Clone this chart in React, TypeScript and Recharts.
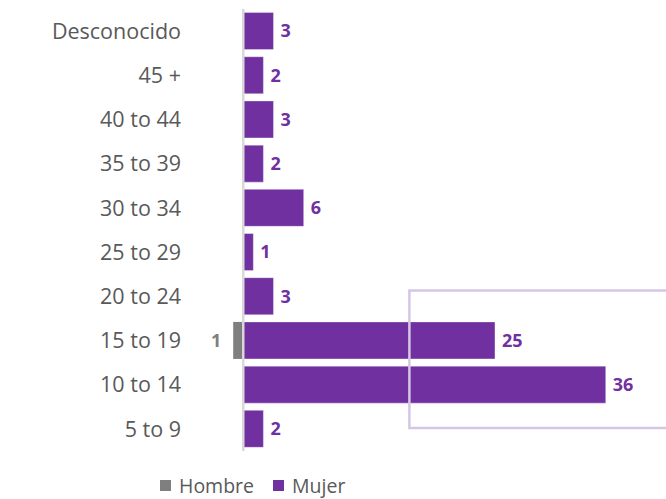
import { BarChart, Bar, XAxis, YAxis, LabelList, Legend, ReferenceLine, ReferenceArea } from "recharts";

const categories = [
  "Desconocido",
  "45 +",
  "40 to 44",
  "35 to 39",
  "30 to 34",
  "25 to 29",
  "20 to 24",
  "15 to 19",
  "10 to 14",
  "5 to 9",
];
const hombre: (number | null)[] = [null, null, null, null, null, null, null, 1, null, null];
const mujer = [3, 2, 3, 2, 6, 1, 3, 25, 36, 2];

const PURPLE = "#7030A0";
const GRAY = "#7F7F7F";
const FONT = "'Open Sans', sans-serif";

// hombre goes to the left of zero
const chartData = categories.map((cat, i) => ({
  cat,
  hombre: hombre[i] == null ? null : -(hombre[i] as number),
  mujer: mujer[i],
}));

const legendItems = [
  { name: "Hombre", color: GRAY },
  { name: "Mujer", color: PURPLE },
];

function renderLegend() {
  return (
    <div style={{ display: "flex", alignItems: "center", gap: 19, fontFamily: FONT, fontSize: 19.5, color: "#595959" }}>
      {legendItems.map((item) => (
        <div key={item.name} style={{ display: "flex", alignItems: "center" }}>
          <span style={{ display: "inline-block", width: 11, height: 11, background: item.color, marginRight: 8 }} />
          <span>{item.name}</span>
        </div>
      ))}
    </div>
  );
}

export default function App() {
  return (
    <div style={{ position: "absolute", left: 0, top: 0, width: 666, height: 499, background: "#fff" }}>
      <BarChart
        width={666}
        height={499}
        data={chartData}
        layout="vertical"
        stackOffset="sign"
        barCategoryGap="8%"
        margin={{ top: 9, right: 20, bottom: 21, left: 0 }}
      >
        <XAxis type="number" domain={[-4, 40]} hide allowDataOverflow />
        <YAxis
          type="category"
          dataKey="cat"
          width={203}
          axisLine={false}
          tickLine={false}
          tickSize={0}
          tickMargin={22}
          tick={{ fill: "#595959", fontSize: 21.5, fontFamily: FONT }}
        />
        {/* hidden numeric axis (row index from the top), only used to place the highlight box */}
        <YAxis yAxisId="box" type="number" domain={[0, 10]} hide allowDataOverflow />
        <Bar dataKey="hombre" stackId="a" fill={GRAY} isAnimationActive={false}>
          <LabelList
            dataKey="hombre"
            position="right"
            offset={12}
            formatter={(v: any) => (v == null ? "" : Math.abs(v))}
            style={{ fill: GRAY, fontSize: 18, fontWeight: 700, fontFamily: FONT }}
          />
        </Bar>
        <Bar dataKey="mujer" stackId="a" fill={PURPLE} stroke="#ffffff" strokeOpacity={0.35} isAnimationActive={false}>
          <LabelList
            dataKey="mujer"
            position="right"
            offset={7}
            style={{ fill: PURPLE, fontSize: 18, fontWeight: 700, fontFamily: FONT }}
          />
        </Bar>
        <ReferenceLine x={0} stroke="#D9D9D9" strokeWidth={2.5} />
        <ReferenceArea
          yAxisId="box"
          x1={16.5}
          x2={60}
          y1={5.73}
          y2={8.53}
          fill="none"
          stroke="#D5C6E6"
          strokeWidth={2.5}
          ifOverflow="visible"
          zIndex={350}
        />
        <Legend
          verticalAlign="bottom"
          content={renderLegend}
          wrapperStyle={{ left: 160, width: "auto", bottom: 0 }}
        />
      </BarChart>
    </div>
  );
}
